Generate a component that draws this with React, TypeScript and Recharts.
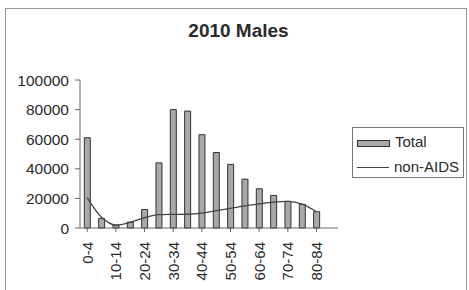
import React from 'react';
import { ComposedChart, Bar, Line, XAxis, YAxis, Legend } from 'recharts';

const categories = ['0-4', '5-9', '10-14', '15-19', '20-24', '25-29', '30-34', '35-39', '40-44', '45-49', '50-54', '55-59', '60-64', '65-69', '70-74', '75-79', '80-84', '85+'];
const totalValues: (number | null)[] = [61000, 6500, 2000, 4000, 12500, 44000, 80000, 79000, 63000, 51000, 43000, 33000, 26500, 22000, 18000, 16000, 11000, null];
const nonAidsValues: (number | null)[] = [20500, 7200, 2000, 3800, 7000, 9000, 9200, 9300, 10000, 11700, 13300, 15000, 16300, 17500, 18000, 16200, 11000, null];
const yTicks = [0, 20000, 40000, 60000, 80000, 100000];

const data = categories.map((c, i) => ({ cat: c, total: totalValues[i], nonAids: nonAidsValues[i] }));

const FONT = '"Liberation Sans", Arial, sans-serif';
const TEXT = '#2a2a2a';

const XTick = (props: any) => {
  const { x, y, payload } = props;
  const yy = y + 8;
  return (
    <text
      x={x}
      y={yy}
      transform={`rotate(-90, ${x}, ${yy})`}
      textAnchor="end"
      dy="0.36em"
      fontSize={15}
      fontFamily={FONT}
      fill={TEXT}
    >
      {payload.value}
    </text>
  );
};

const LegendContent = () => (
  <div
    style={{
      width: 112,
      height: 51,
      border: '1px solid #777',
      background: '#fff',
      fontFamily: FONT,
      fontSize: 15,
      color: TEXT,
      boxSizing: 'border-box',
      position: 'relative',
    }}
  >
    <div style={{ position: 'absolute', left: 4, top: 12, width: 31, height: 5, background: '#a8a8a8', border: '1px solid #333' }} />
    <div style={{ position: 'absolute', left: 42, top: 5, lineHeight: '18px' }}>Total</div>
    <div style={{ position: 'absolute', left: 4, top: 39, width: 32, height: 0, borderTop: '1.3px solid #444' }} />
    <div style={{ position: 'absolute', left: 41, top: 30, lineHeight: '18px' }}>non-AIDS</div>
  </div>
);

export default function App() {
  return (
    <div style={{ position: 'absolute', left: 0, top: 0, width: 469, height: 290, background: '#fff', overflow: 'hidden' }}>
      <div style={{ position: 'absolute', left: 5, top: 8, width: 462, height: 300, border: '1px solid #999', boxSizing: 'border-box' }} />
      <div
        style={{
          position: 'absolute',
          left: 0,
          width: 469,
          top: 20,
          textAlign: 'center',
          fontFamily: FONT,
          fontWeight: 'bold',
          fontSize: 19,
          color: TEXT,
          paddingLeft: 4,
        }}
      >
        2010 Males
      </div>
      <div style={{ position: 'absolute', left: 0, top: 0 }}>
        <ComposedChart width={469} height={290} data={data} margin={{ top: 80, right: 131, bottom: 0, left: 0 }} barCategoryGap="30%">
          <XAxis
            dataKey="cat"
            interval={1}
            height={62}
            tick={<XTick />}
            tickLine={{ stroke: '#666' }}
            tickSize={4}
            axisLine={{ stroke: '#666' }}
          />
          <XAxis xAxisId="top" dataKey="cat" orientation="top" height={0} tick={false} tickLine={false} axisLine={{ stroke: '#888' }} />
          <YAxis
            domain={[0, 100000]}
            ticks={yTicks}
            width={80}
            tickSize={5}
            tickMargin={6}
            tickLine={{ stroke: '#666' }}
            axisLine={{ stroke: '#666' }}
            tick={{ fontSize: 15.5, fontFamily: FONT, fill: TEXT }}
          />
          <YAxis yAxisId="right" orientation="right" width={0} domain={[0, 100000]} tick={false} tickLine={false} axisLine={{ stroke: '#888' }} />
          <Legend layout="vertical" align="center" verticalAlign="middle" content={<LegendContent />} wrapperStyle={{ position: 'absolute', left: 352, top: 127, width: 112 }} />
          <Bar dataKey="total" name="Total" fill="#a8a8a8" stroke="#333" strokeWidth={1} isAnimationActive={false} />
          <Line dataKey="nonAids" name="non-AIDS" type="monotone" stroke="#444" strokeWidth={1.3} dot={false} isAnimationActive={false} />
        </ComposedChart>
      </div>
    </div>
  );
}
